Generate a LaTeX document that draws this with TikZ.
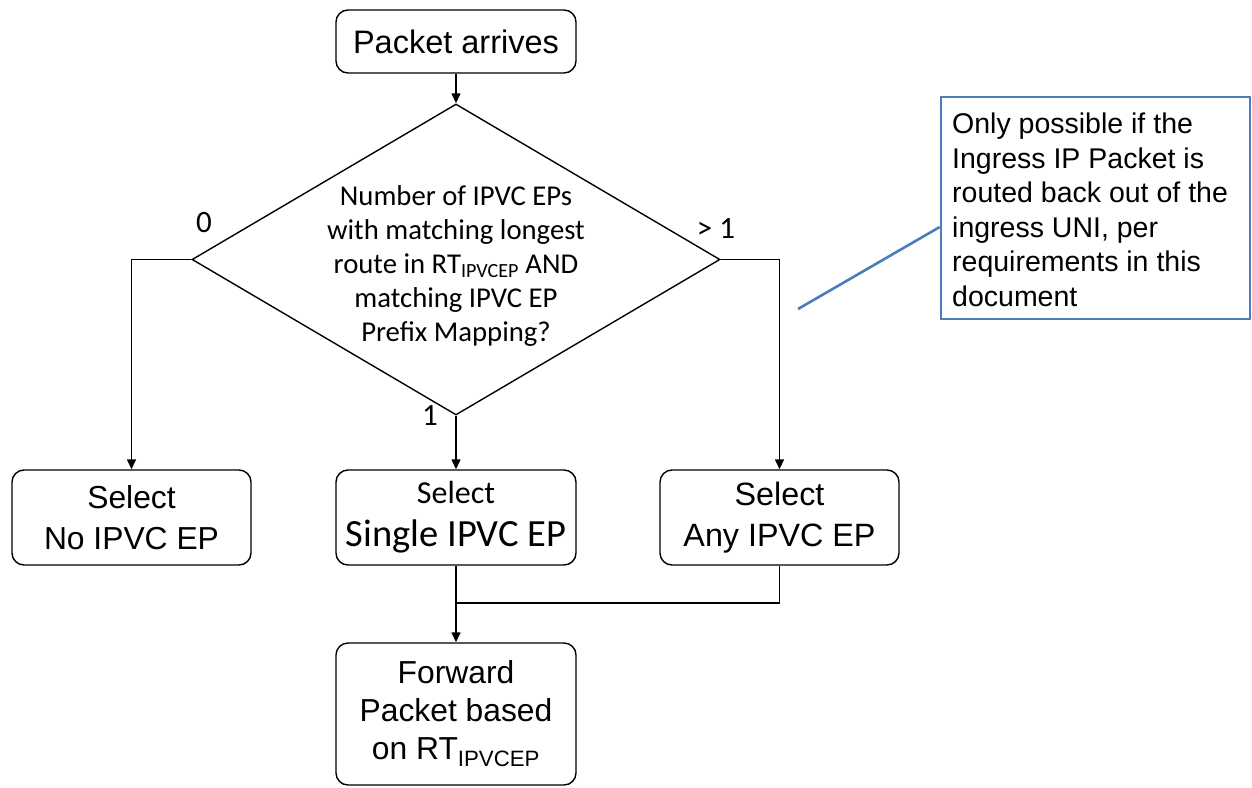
\documentclass[tikz,border=0pt]{standalone}
\usepackage{fontspec}
\setmainfont{Liberation Sans}
\newfontfamily\cfont{Carlito}
\usetikzlibrary{shapes.geometric,arrows.meta}
\definecolor{callblue}{RGB}{74,126,187}
\begin{document}
\begin{tikzpicture}[x=1pt,y=-1pt,
  box/.style={draw, line width=1.4pt, rounded corners=12pt, align=center, inner sep=0pt},
  arr/.style={line width=1.4pt, -{Triangle[width=9pt,length=10pt]}},
  ln/.style={line width=1.4pt},
  lbl/.style={font=\cfont\fontsize{31}{34}\selectfont, inner sep=0pt}]
\useasboundingbox (0,0) rectangle (1252,787);
\node[box, minimum width=240pt, minimum height=63pt, font=\fontsize{32.5}{40}\selectfont] (pa) at (456,41.5) {Packet arrives};
\node[diamond, draw, line width=1.4pt, minimum width=528pt, minimum height=311pt, inner sep=0pt] (dec) at (456,259.5) {};
\node[align=center, font=\cfont\fontsize{28.7}{34}\selectfont, inner sep=0pt] (dectext) at (456,266) {Number of IPVC EPs\\with matching longest\\route in RT\textsubscript{IPVCEP} AND\\matching IPVC EP\\Prefix Mapping?};
\node[box, minimum width=239pt, minimum height=95pt, font=\fontsize{31.8}{41}\selectfont] (no) at (131.5,517.5) {Select\\No IPVC EP};
\node[box, minimum width=240pt, minimum height=95pt, font=\cfont\fontsize{32}{43}\selectfont] (single) at (456,517.5) {Select\\{\fontsize{38.5}{43}\selectfont Single IPVC EP}};
\node[box, minimum width=239pt, minimum height=95pt, font=\fontsize{32.3}{41}\selectfont] (any) at (779.5,517.5) {Select\\Any IPVC EP};
\node[box, minimum width=240pt, minimum height=142pt, font=\fontsize{31.8}{38}\selectfont] (fwd) at (456,714) {Forward\\Packet based\\on RT\textsubscript{IPVCEP}};
\node[draw=callblue, line width=2.6pt, minimum width=309pt, minimum height=222pt, inner sep=0pt] (call) at (1095.5,208) {};
\node[anchor=north west, align=left, font=\fontsize{28.5}{34.5}\selectfont, inner sep=0pt] (calltext) at (952,113) {Only possible if the\\Ingress IP Packet is\\routed back out of the\\ingress UNI, per\\requirements in this\\document};
\coordinate (ct) at (798,309);
\draw[callblue, line width=2.6pt] ([yshift=-19pt]call.west) -- (ct);
\node[lbl] (l0) at (204,223) {0};
\node[lbl] (lg) at (716,229) {> 1};
\node[lbl] (l1) at (430,416) {1};
\coordinate (jn) at (456,603);
\draw[arr] (pa.south) -- (dec.north);
\draw[arr] (dec.west) -| (no.north);
\draw[arr] (dec.east) -| (any.north);
\draw[arr] (dec.south) -- (single.north);
\draw[arr] (single.south) -- (fwd.north);
\draw[ln] (any.south) |- (jn);
\end{tikzpicture}
\end{document}
